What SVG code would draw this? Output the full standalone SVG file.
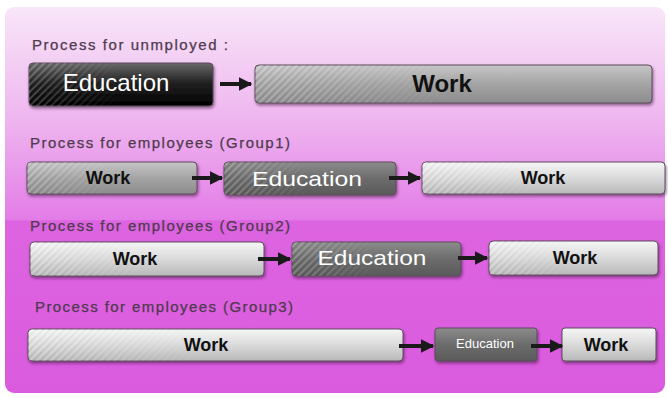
<svg xmlns="http://www.w3.org/2000/svg" width="668" height="398" viewBox="0 0 668 398">
  <defs>
    <linearGradient id="bg" x1="0" y1="0" x2="0" y2="1">
      <stop offset="0" stop-color="#f8e6f8"/>
      <stop offset="0.3" stop-color="#eeb4ef"/>
      <stop offset="0.55" stop-color="#e37ce7"/>
      <stop offset="0.555" stop-color="#dd64e1"/>
      <stop offset="1" stop-color="#da5bde"/>
    </linearGradient>
    <linearGradient id="gBlack" x1="0" y1="0" x2="0" y2="1">
      <stop offset="0" stop-color="#6a6a6a"/>
      <stop offset="0.45" stop-color="#222"/>
      <stop offset="1" stop-color="#000"/>
    </linearGradient>
    <linearGradient id="gMid" x1="0" y1="0" x2="0" y2="1">
      <stop offset="0" stop-color="#c6c6c6"/>
      <stop offset="0.5" stop-color="#a4a4a4"/>
      <stop offset="1" stop-color="#8c8c8c"/>
    </linearGradient>
    <linearGradient id="gDark" x1="0" y1="0" x2="0" y2="1">
      <stop offset="0" stop-color="#8c8c8c"/>
      <stop offset="0.5" stop-color="#6c6c6c"/>
      <stop offset="1" stop-color="#5a5a5a"/>
    </linearGradient>
    <linearGradient id="gLight" x1="0" y1="0" x2="0" y2="1">
      <stop offset="0" stop-color="#f6f6f6"/>
      <stop offset="0.5" stop-color="#dadada"/>
      <stop offset="1" stop-color="#b8b8b8"/>
    </linearGradient>
    <linearGradient id="fade" x1="0" y1="0" x2="1" y2="0">
      <stop offset="0" stop-color="#fff" stop-opacity="1"/>
      <stop offset="0.2" stop-color="#fff" stop-opacity="0.6"/>
      <stop offset="0.5" stop-color="#fff" stop-opacity="0"/>
    </linearGradient>
    <mask id="fadeMask" maskContentUnits="objectBoundingBox">
      <rect x="0" y="0" width="1" height="1" fill="url(#fade)"/>
    </mask>
    <pattern id="stripes" patternUnits="userSpaceOnUse" width="5" height="5" patternTransform="rotate(45)">
      <line x1="1" y1="0" x2="1" y2="5" stroke="#ffffff" stroke-opacity="0.35" stroke-width="1.3"/>
      <line x1="3.5" y1="0" x2="3.5" y2="5" stroke="#000000" stroke-opacity="0.06" stroke-width="1"/>
    </pattern>
    <filter id="shadow" x="-5%" y="-20%" width="110%" height="160%">
      <feDropShadow dx="1" dy="2" stdDeviation="1.5" flood-color="#3a0a3a" flood-opacity="0.55"/>
    </filter>
    <marker id="ah" viewBox="0 0 10 10" refX="9" refY="5" markerWidth="3.4" markerHeight="3.6" orient="auto" markerUnits="strokeWidth">
      <path d="M0,0 L10,5 L0,10 Z" fill="#1a1a1a"/>
    </marker>
  </defs>
  <style>
    .title { font-family: "Liberation Sans", Arial, sans-serif; font-size: 15px; fill: #4e3a4c; stroke: #4e3a4c; stroke-width: 0.25; }
    .box { stroke: #5e4a5c; stroke-width: 1; filter: url(#shadow); }
    .stripe { fill: url(#stripes); mask: url(#fadeMask); }
    .work { font-family: "Liberation Sans", Arial, sans-serif; font-weight: bold; fill: #111; text-anchor: middle; }
    .edu { font-family: "Liberation Sans", Arial, sans-serif; fill: #ffffff; text-anchor: middle; }
    .conn line { stroke: #1a1a1a; stroke-width: 4; marker-end: url(#ah); }
  </style>

  <rect x="0" y="0" width="668" height="398" fill="#ffffff"/>
  <rect x="5" y="7" width="660" height="386" rx="9" fill="url(#bg)"/>

  <g id="titles">
    <text class="title" x="32" y="50" textLength="196" lengthAdjust="spacing">Process for unmployed :</text>
    <text class="title" x="30" y="148" textLength="260" lengthAdjust="spacing">Process for employees (Group1)</text>
    <text class="title" x="30" y="231" textLength="260" lengthAdjust="spacing">Process for employees (Group2)</text>
    <text class="title" x="35" y="312" textLength="258" lengthAdjust="spacing">Process for employees (Group3)</text>
  </g>

  <!-- Row 1 -->
  <g id="r1-education">
    <rect class="box" x="29" y="63" width="184" height="43" rx="4" fill="url(#gBlack)"/>
    <rect class="stripe" x="29" y="63" width="184" height="43" rx="4"/>
    <text class="edu" x="116" y="91" font-size="24">Education</text>
  </g>
  <g id="r1-work">
    <rect class="box" x="255" y="65" width="397" height="38" rx="4" fill="url(#gMid)"/>
    <rect class="stripe" x="255" y="65" width="397" height="38" rx="4"/>
    <text class="work" x="442" y="92" font-size="24">Work</text>
  </g>

  <!-- Row 2 -->
  <g id="r2-work1">
    <rect class="box" x="27" y="162" width="170" height="32" rx="4" fill="url(#gMid)"/>
    <rect class="stripe" x="27" y="162" width="170" height="32" rx="4"/>
    <text class="work" x="108" y="184" font-size="18">Work</text>
  </g>
  <g id="r2-education">
    <rect class="box" x="224" y="162" width="172" height="33" rx="4" fill="url(#gDark)"/>
    <rect class="stripe" x="224" y="162" width="172" height="33" rx="4"/>
    <text class="edu" x="307" y="186" font-size="21" textLength="110" lengthAdjust="spacingAndGlyphs">Education</text>
  </g>
  <g id="r2-work2">
    <rect class="box" x="422" y="162" width="243" height="32" rx="4" fill="url(#gLight)"/>
    <rect class="stripe" x="422" y="162" width="243" height="32" rx="4"/>
    <text class="work" x="543" y="184" font-size="18">Work</text>
  </g>

  <!-- Row 3 -->
  <g id="r3-work1">
    <rect class="box" x="30" y="242" width="234" height="34" rx="4" fill="url(#gLight)"/>
    <rect class="stripe" x="30" y="242" width="234" height="34" rx="4"/>
    <text class="work" x="135" y="265" font-size="18">Work</text>
  </g>
  <g id="r3-education">
    <rect class="box" x="292" y="242" width="169" height="34" rx="4" fill="url(#gDark)"/>
    <rect class="stripe" x="292" y="242" width="169" height="34" rx="4"/>
    <text class="edu" x="372" y="265" font-size="21" textLength="109" lengthAdjust="spacingAndGlyphs">Education</text>
  </g>
  <g id="r3-work2">
    <rect class="box" x="489" y="241" width="169" height="34" rx="4" fill="url(#gLight)"/>
    <rect class="stripe" x="489" y="241" width="169" height="34" rx="4"/>
    <text class="work" x="575" y="264" font-size="18">Work</text>
  </g>

  <!-- Row 4 -->
  <g id="r4-work1">
    <rect class="box" x="28" y="329" width="375" height="32" rx="4" fill="url(#gLight)"/>
    <rect class="stripe" x="28" y="329" width="375" height="32" rx="4"/>
    <text class="work" x="206" y="351" font-size="18">Work</text>
  </g>
  <g id="r4-education">
    <rect class="box" x="435" y="328" width="102" height="33" rx="3" fill="url(#gDark)"/>
    <text class="edu" x="485" y="348" font-size="13">Education</text>
  </g>
  <g id="r4-work2">
    <rect class="box" x="562" y="328" width="94" height="33" rx="3" fill="url(#gLight)"/>
    <text class="work" x="606" y="351" font-size="18">Work</text>
  </g>

  <g id="connectors" class="conn">
    <line x1="220" y1="84" x2="251" y2="84"/>
    <line x1="192" y1="178" x2="222" y2="178"/>
    <line x1="389" y1="178" x2="420" y2="178"/>
    <line x1="258" y1="259" x2="290" y2="259"/>
    <line x1="458" y1="258" x2="487" y2="258"/>
    <line x1="399" y1="346" x2="433" y2="346"/>
    <line x1="531" y1="346" x2="562" y2="346"/>
  </g>
</svg>
